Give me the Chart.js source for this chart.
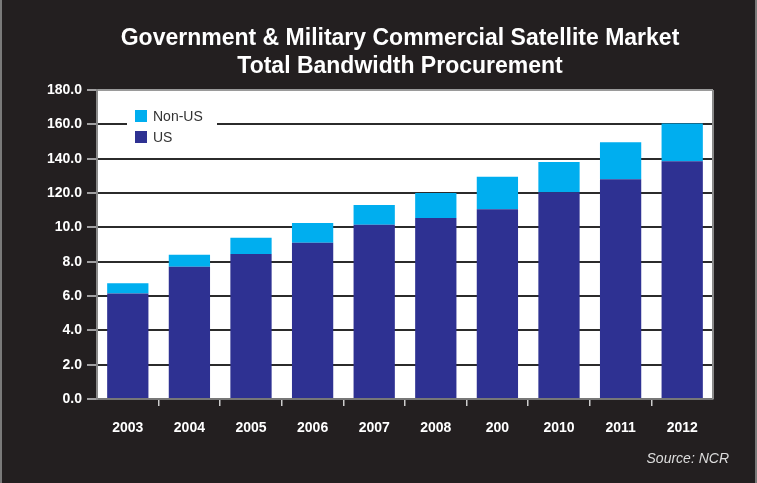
<!DOCTYPE html>
<html>
<head>
<meta charset="utf-8">
<script src="https://cdn.jsdelivr.net/npm/chart.js@4/dist/chart.umd.min.js"></script>
<style>
  html, body { margin: 0; padding: 0; background: #231f20; }
  #wrap { width: 757px; height: 483px; position: relative; }
</style>
</head>
<body>
<div id="wrap"><canvas id="grafico"></canvas></div>
<script>
// datos
const anios = ['2003', '2004', '2005', '2006', '2007', '2008', '200', '2010', '2011', '2012'];
const valoresUS = [6.15, 7.7, 8.45, 9.1, 10.15, 10.55, 11.05, 12.05, 12.8, 13.85];
const valoresNoUS = [0.6, 0.7, 0.95, 1.15, 1.15, 1.45, 1.9, 1.75, 2.15, 2.2];
const etiquetasY = ['0.0', '2.0', '4.0', '6.0', '8.0', '10.0', '120.0', '140.0', '160.0', '180.0'];

const tituloLineas = ['Government & Military Commercial Satellite Market', 'Total Bandwidth Procurement'];
const fuente = 'Source: NCR';

const FONDO = '#231f20';

// fondo negro, area blanca
const pluginFondo = {
    id: 'fondo',
    beforeDraw(chart) {
        const ctx = chart.ctx;
        const a = chart.chartArea;
        ctx.save();
        ctx.fillStyle = FONDO;
        ctx.fillRect(0, 0, chart.width, chart.height);
        // marco gris a los lados
        ctx.fillStyle = '#7a7a7a';
        ctx.fillRect(0, 0, 2, chart.height);
        ctx.fillRect(chart.width - 2, 0, 2, chart.height);
        ctx.fillStyle = '#ffffff';
        ctx.fillRect(a.left, a.top, a.right - a.left, a.bottom - a.top);
        ctx.restore();
    }
};

// titulo, leyenda y fuente
const pluginTextos = {
    id: 'textos',
    afterDraw(chart) {
        const ctx = chart.ctx;
        const a = chart.chartArea;
        ctx.save();
        ctx.fillStyle = '#ffffff';
        ctx.textAlign = 'center';
        ctx.textBaseline = 'middle';
        ctx.font = 'bold 23px "Liberation Sans", Arial, sans-serif';
        ctx.fillText(tituloLineas[0], 400, 39);
        ctx.fillText(tituloLineas[1], 400, 67);

        ctx.fillStyle = '#dddddd';
        ctx.font = 'italic 14px "Liberation Sans", Arial, sans-serif';
        ctx.textAlign = 'right';
        ctx.fillText(fuente, 729, 459);

        // borde derecho del area
        ctx.strokeStyle = '#8a8a8a';
        ctx.lineWidth = 2;
        ctx.beginPath();
        ctx.moveTo(a.right, a.top);
        ctx.lineTo(a.right, a.bottom);
        ctx.stroke();

        // leyenda
        ctx.fillStyle = '#ffffff';
        ctx.fillRect(a.left + 30, a.top + 14, 90, 40);
        const items = chart.data.datasets.slice().reverse();
        ctx.font = '14px "Liberation Sans", Arial, sans-serif';
        ctx.textAlign = 'left';
        items.forEach((ds, i) => {
            const y = a.top + 26 + i * 21;
            ctx.fillStyle = ds.backgroundColor;
            ctx.fillRect(a.left + 38, y - 6, 12, 12);
            ctx.fillStyle = '#333333';
            ctx.fillText(ds.label, a.left + 56, y + 1);
        });
        ctx.restore();
    }
};

const ctx = document.getElementById('grafico').getContext('2d');

new Chart(ctx, {
    type: 'bar',
    data: {
        labels: anios,
        datasets: [{
            label: 'US',
            data: valoresUS,
            backgroundColor: '#2e3192',
            borderWidth: 0
        },
        {
            label: 'Non-US',
            data: valoresNoUS,
            backgroundColor: '#00aeef',
            borderWidth: 0
        }]
    },
    options: {
        responsive: true,
        maintainAspectRatio: false,
        animation: false,
        categoryPercentage: 0.67,
        barPercentage: 1,
        layout: {
            padding: { top: 90, right: 44, bottom: 0, left: 0 }
        },
        plugins: {
            legend: { display: false },
            title: { display: false },
            tooltip: { enabled: false }
        },
        scales: {
            x: {
                stacked: true,
                afterFit: (scale) => { scale.height = 84; },
                grid: {
                    offset: true,
                    drawOnChartArea: false,
                    drawTicks: true,
                    tickLength: 7,
                    // sin marcas en los extremos
                    tickColor: (c) => (c.type !== 'tick' || c.index === 0) ? 'rgba(0,0,0,0)' : '#cccccc',
                    lineWidth: 1.5
                },
                border: { color: '#777777', width: 2 },
                ticks: {
                    color: '#ffffff',
                    padding: 14,
                    font: { family: '"Liberation Sans", Arial, sans-serif', size: 14, weight: 'bold' }
                }
            },
            y: {
                stacked: true,
                min: 0,
                max: 18,
                afterFit: (scale) => { scale.width = 97; },
                grid: {
                    color: (c) => c.tick && c.tick.value === 18 ? '#9a9a9a' : '#2b2b2b',
                    lineWidth: 2,
                    tickLength: 10,
                    tickColor: '#cccccc',
                    tickWidth: 1.5
                },
                border: { color: '#8a8a8a', width: 2 },
                ticks: {
                    stepSize: 2,
                    color: '#ffffff',
                    padding: 5,
                    font: { family: '"Liberation Sans", Arial, sans-serif', size: 14, weight: 'bold' },
                    callback: (v, i) => etiquetasY[i]
                }
            }
        }
    },
    plugins: [pluginFondo, pluginTextos]
});
</script>
</body>
</html>
